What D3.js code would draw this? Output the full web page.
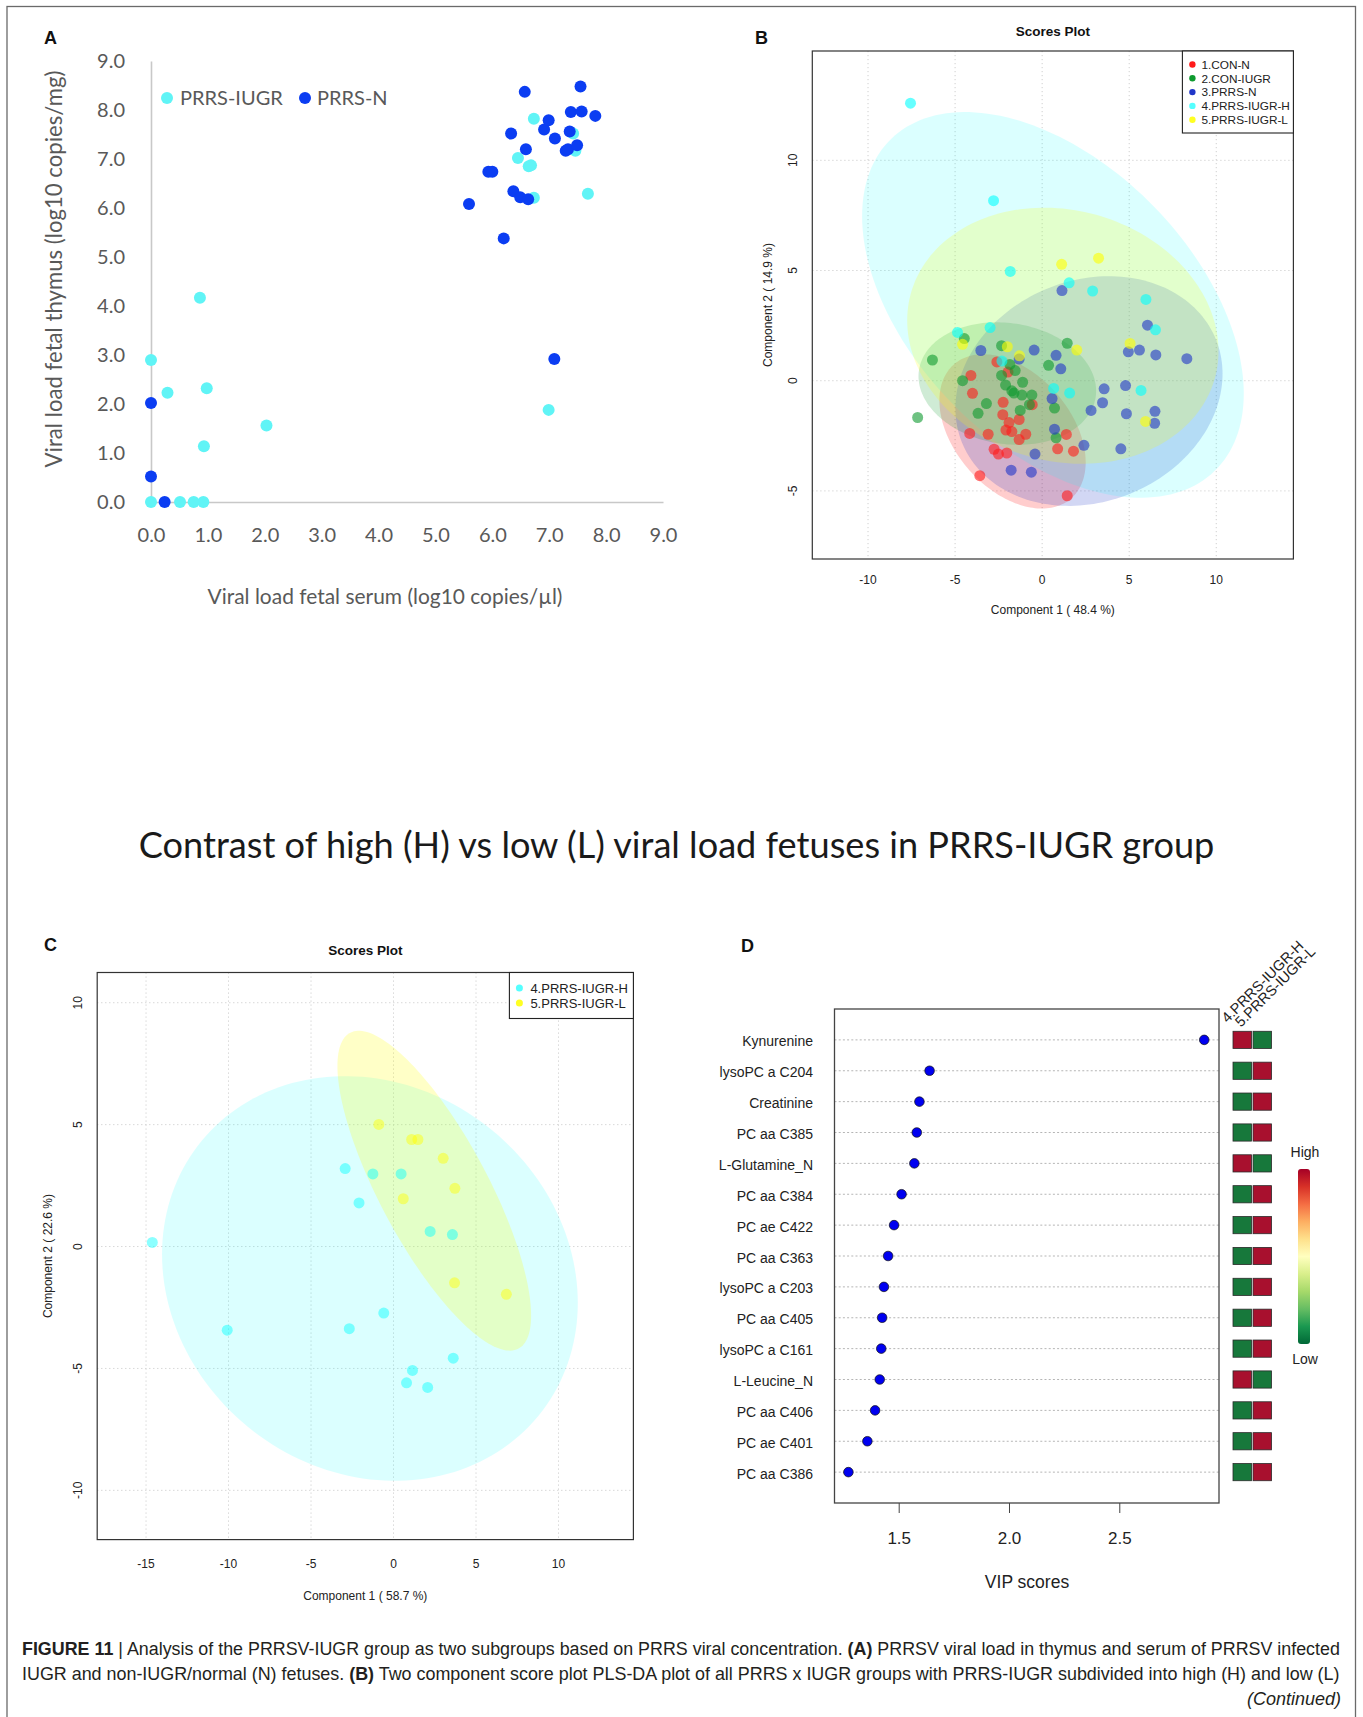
<!DOCTYPE html>
<html><head><meta charset="utf-8">
<script src="https://cdn.jsdelivr.net/npm/d3@7"></script>
<style>body{margin:0;background:#fff;} svg{display:block;}</style>
</head><body>
<svg id="fig" width="1363" height="1717"></svg>
<script>
// ================= DATA =================
// Panel A : viral load (log10) serum (x) vs thymus (y)
const aSeries = ["PRRS-IUGR", "PRRS-N"];
const aTicks = [0,1,2,3,4,5,6,7,8,9];
const aIugrSerum  = [0, 0.51, 0.75, 0.92, 0, 0.29, 0.86, 0.98, 0.93, 2.03, 6.99, 7.68, 6.73, 6.45, 6.64, 6.68, 6.73, 7.42, 7.46];
const aIugrThymus = [0, 0, 0, 0, 2.9, 2.23, 4.17, 2.32, 1.14, 1.56, 1.88, 6.29, 7.82, 7.02, 6.85, 6.87, 6.21, 7.52, 7.17];
const aNSerum  = [0, 0, 0.24, 5.59, 6.2, 5.93, 6.0, 6.33, 6.37, 6.49, 6.63, 6.59, 6.57, 6.91, 6.99, 7.1, 7.09, 7.29, 7.33, 7.36, 7.38, 7.49, 7.55, 7.57, 7.81];
const aNThymus = [2.02, 0.52, 0, 6.08, 5.38, 6.74, 6.74, 7.52, 6.34, 6.22, 6.18, 7.2, 8.37, 7.6, 7.79, 7.42, 2.92, 7.17, 7.2, 7.56, 7.96, 7.28, 8.48, 7.97, 7.88];

// Panel B : PLS-DA scores, 5 groups
const bGroups = ["1.CON-N", "2.CON-IUGR", "3.PRRS-N", "4.PRRS-IUGR-H", "5.PRRS-IUGR-L"];
const bXTicks = [-10, -5, 0, 5, 10];
const bYTicks = [-5, 0, 5, 10];
const bConNX = [-4.09,-4.0,-2.6,-1.96,-2.24,-2.26,-1.9,-2.08,-1.74,-1.32,-0.94,-1.32,-0.57,-3.1,-4.16,-2.76,-2.51,-2.03,-3.58,0.89,1.39,1.8,1.44];
const bConNY = [0.24,-0.57,0.85,0.39,-0.98,-1.54,-1.9,-2.24,-2.31,-1.76,-2.43,-2.67,-1.09,-2.43,-2.39,-3.11,-3.33,-3.28,-4.31,-3.09,-2.44,-3.2,-5.22];
const bConIX = [-7.15,-6.3,-4.47,-4.57,-3.2,-3.68,-2.33,-2.33,-2.1,-1.85,-1.55,-1.74,-1.62,-1.12,-1.16,-0.59,-0.73,-1.26,0.37,1.44,0.71,0.8];
const bConIY = [-1.67,0.94,1.91,0.0,-1.04,-1.48,1.59,0.24,-0.2,0.74,0.46,-0.46,-0.56,-0.07,-0.65,-0.65,-1.09,-1.35,0.7,1.7,-1.24,-2.59];
const bPrrsNX = [-3.52,-1.32,-0.46,1.14,0.8,1.07,0.57,0.71,-0.41,-1.78,-0.62,2.4,2.81,3.47,3.56,4.79,4.84,4.52,4.95,5.59,6.05,6.53,6.48,6.46,8.31];
const bPrrsNY = [1.37,0.98,1.39,4.09,1.15,0.54,-0.81,-2.2,-3.33,-4.06,-4.15,-2.93,-1.35,-1.0,-0.37,-0.22,-1.5,-3.09,1.31,1.39,2.52,1.17,-1.39,-1.93,1.0];
const bHX = [-7.56,-2.79,-1.83,1.55,2.9,5.96,6.51,-2.99,-4.86,-2.31,0.66,1.58,5.68];
const bHY = [12.59,8.17,4.96,4.44,4.07,3.69,2.31,2.41,2.19,0.89,-0.35,-0.56,-0.44];
const bLX = [1.12,3.24,5.05,1.99,-2.0,-1.3,-4.57,5.94];
const bLY = [5.28,5.56,1.69,1.39,1.54,1.13,1.65,-1.85];
// confidence ellipses (centre, half extents, correlation) per group
const bEllCx  = [-1.7, -2.0, 2.69, 0.62, 1.19];
const bEllCy  = [-2.3, -0.13, -0.47, 3.44, 2.04];
const bEllSx  = [4.2, 5.1, 7.67, 10.96, 8.94];
const bEllSy  = [3.5, 2.78, 5.21, 8.75, 5.81];
const bEllRho = [-0.4, -0.12, 0.15, -0.46, -0.12];

// Panel C : PLS-DA scores, 2 groups
const cGroups = ["4.PRRS-IUGR-H", "5.PRRS-IUGR-L"];
const cXTicks = [-15, -10, -5, 0, 5, 10];
const cYTicks = [-10, -5, 0, 5, 10];
const cHX = [-14.62,-10.08,-2.93,-2.09,-1.25,0.46,-2.68,-0.59,2.22,3.57,3.62,1.15,0.79,2.07];
const cHY = [0.17,-3.43,3.2,1.79,2.98,2.98,-3.37,-2.73,0.62,0.49,-4.58,-5.08,-5.59,-5.78];
const cLX = [-0.89,1.1,1.48,3.01,3.72,0.59,3.7,6.84];
const cLY = [5.01,4.39,4.39,3.62,2.39,1.96,-1.49,-1.96];
const cEllCx  = [-1.43, 2.47];
const cEllCy  = [-1.31, 2.29];
const cEllSx  = [12.6, 5.87];
const cEllSy  = [8.3, 6.56];
const cEllRho = [-0.12, -0.78];

// Panel D : VIP scores
const dFeatures = ["Kynurenine","lysoPC a C204","Creatinine","PC aa C385","L-Glutamine_N","PC aa C384","PC ae C422","PC aa C363","lysoPC a C203","PC aa C405","lysoPC a C161","L-Leucine_N","PC aa C406","PC ae C401","PC aa C386"];
const dVip = [2.885,1.64,1.594,1.582,1.571,1.513,1.479,1.452,1.433,1.425,1.421,1.414,1.393,1.358,1.272];
const dHighInH = [1,0,0,0,1,0,0,0,0,0,0,1,0,0,0]; // 1 = higher in H group
const dHeatCols = ["4.PRRS-IUGR-H", "5.PRRS-IUGR-L"];
const dXTicks = [1.5, 2.0, 2.5];

const mainTitle = "Contrast of high (H) vs low (L) viral load fetuses in PRRS-IUGR group";

// ================= DRAW =================
const svg = d3.select("#fig");
svg.append("rect").attr("width",1363).attr("height",1717).attr("fill","#fff");
svg.append("rect").attr("x",7).attr("y",6.5).attr("width",1348.5).attr("height",1800)
  .attr("fill","none").attr("stroke","#6a6a6a").attr("stroke-width",1.3);

const R = "'Liberation Sans', Arial, sans-serif";
const CAL = "Lato, 'Open Sans', sans-serif";

function panelLabel(x, y, t){
  svg.append("text").attr("x",x).attr("y",y).text(t)
    .attr("font-family",R).attr("font-weight","bold").attr("font-size",18).attr("fill","#111");
}
function fitWidth(sel, fs, target){
  const w = sel.node().getComputedTextLength();
  sel.attr("font-size", fs*target/w);
}

// ---------- Panel A ----------
const xA = d3.scaleLinear().domain([0,9]).range([151,663]);
const yA = d3.scaleLinear().domain([0,9]).range([502,61]);
const gA = svg.append("g");
const axL = gA.append("g").attr("transform","translate(151,0)")
  .call(d3.axisLeft(yA).tickValues(aTicks).tickFormat(d3.format(".1f")).tickSize(0).tickPadding(26));
const axB = gA.append("g").attr("transform","translate(0,502)")
  .call(d3.axisBottom(xA).tickValues(aTicks).tickFormat(d3.format(".1f")).tickSize(0).tickPadding(26));
[axL, axB].forEach(a=>{
  a.select(".domain").attr("stroke","#c8c8c8").attr("stroke-width",1.6);
  a.selectAll("text").attr("font-family",CAL).attr("font-size",20).attr("fill","#595959");
});
const xtA = gA.append("text").attr("x",385).attr("y",604).attr("text-anchor","middle")
  .attr("font-family",CAL).attr("font-size",20).attr("fill","#595959")
  .text("Viral load fetal serum (log10 copies/µl)");
fitWidth(xtA, 20, 355);
const ytA = gA.append("text").attr("transform","translate(62,269) rotate(-90)").attr("text-anchor","middle")
  .attr("font-family",CAL).attr("font-size",20).attr("fill","#595959")
  .text("Viral load fetal thymus (log10 copies/mg)");
fitWidth(ytA, 20, 397);
const aColors = ["#60f4f6", "#0b3df2"];
const aData = [d3.zip(aIugrSerum, aIugrThymus), d3.zip(aNSerum, aNThymus)];
aData.forEach((pts,i)=>{
  gA.append("g").selectAll("circle").data(pts).join("circle")
    .attr("cx",d=>xA(d[0])).attr("cy",d=>yA(d[1])).attr("r",6).attr("fill",aColors[i]);
});
// legend A
[[167,180],[305,317]].forEach((p,i)=>{
  gA.append("circle").attr("cx",p[0]).attr("cy",98).attr("r",6).attr("fill",aColors[i]);
  gA.append("text").attr("x",p[1]).attr("y",105).text(aSeries[i])
    .attr("font-family",CAL).attr("font-size",20).attr("fill","#595959");
});
panelLabel(44, 44, "A");

// ---------- helpers for R-style score plots ----------
function ellipsePts(cx, cy, sx, sy, rho){
  const phi = Math.acos(rho);
  return d3.range(0, 181).map(i=>{
    const t = 2*Math.PI*i/180;
    return [cx + sx*Math.cos(t), cy + sy*Math.cos(t - phi)];
  });
}
function scorePlot(cfg){
  const {x, y, xTicks, yTicks, id} = cfg;
  const g = svg.append("g");
  const [x0,x1] = x.range(), [y0,y1] = y.range();
  g.append("clipPath").attr("id",id).append("rect")
    .attr("x",x0).attr("y",y1).attr("width",x1-x0).attr("height",y0-y1);
  const inner = g.append("g").attr("clip-path",`url(#${id})`);
  // grid
  inner.selectAll(".gx").data(xTicks).join("line")
    .attr("x1",d=>x(d)).attr("x2",d=>x(d)).attr("y1",y1).attr("y2",y0)
    .attr("stroke","#cfcfcf").attr("stroke-dasharray","1.2,2.8");
  inner.selectAll(".gy").data(yTicks).join("line")
    .attr("y1",d=>y(d)).attr("y2",d=>y(d)).attr("x1",x0).attr("x2",x1)
    .attr("stroke","#cfcfcf").attr("stroke-dasharray","1.2,2.8");
  // ellipses
  const line = d3.line().x(d=>x(d[0])).y(d=>y(d[1])).curve(d3.curveLinearClosed);
  cfg.ell.forEach((e,i)=>{
    inner.append("path").attr("d", line(ellipsePts(e[0],e[1],e[2],e[3],e[4])))
      .attr("fill", cfg.colors[i]).attr("fill-opacity", cfg.ellOpacity[i]).attr("stroke","none");
  });
  // points
  cfg.pts.forEach((pts,i)=>{
    inner.append("g").selectAll("circle").data(pts).join("circle")
      .attr("cx",d=>x(d[0])).attr("cy",d=>y(d[1])).attr("r",5.5)
      .attr("fill",cfg.colors[i]).attr("fill-opacity",cfg.ptOpacity);
  });
  // box
  g.append("rect").attr("x",x0).attr("y",y1).attr("width",x1-x0).attr("height",y0-y1)
    .attr("fill","none").attr("stroke","#333").attr("stroke-width",1.2);
  // tick labels
  g.selectAll(".tx").data(xTicks).join("text")
    .attr("x",d=>x(d)).attr("y",y0+cfg.tickDy).attr("text-anchor","middle").text(d=>d)
    .attr("font-family",R).attr("font-size",12).attr("fill","#222");
  g.selectAll(".ty").data(yTicks).join("text")
    .attr("transform",d=>`translate(${x0-15},${y(d)}) rotate(-90)`).attr("text-anchor","middle").text(d=>d)
    .attr("font-family",R).attr("font-size",12).attr("fill","#222");
  // titles
  g.append("text").attr("x",(x0+x1)/2).attr("y",y1-cfg.titleUp).attr("text-anchor","middle")
    .text("Scores Plot").attr("font-family",R).attr("font-weight","bold").attr("font-size",13.5).attr("fill","#111");
  g.append("text").attr("x",(x0+x1)/2).attr("y",y0+cfg.xlabDy).attr("text-anchor","middle")
    .text(cfg.xlab).attr("font-family",R).attr("font-size",12).attr("fill","#222");
  g.append("text").attr("transform",`translate(${x0-cfg.ylabDx},${(y0+y1)/2}) rotate(-90)`).attr("text-anchor","middle")
    .text(cfg.ylab).attr("font-family",R).attr("font-size",12).attr("fill","#222");
  // legend
  const lg = cfg.legend;
  g.append("rect").attr("x",x1-lg.w).attr("y",y1).attr("width",lg.w).attr("height",lg.h)
    .attr("fill","#fff").attr("stroke","#222").attr("stroke-width",1.1);
  cfg.groups.forEach((name,i)=>{
    const yy = y1 + lg.top + i*lg.step;
    g.append("circle").attr("cx",x1-lg.w+10).attr("cy",yy).attr("r",lg.r).attr("fill",cfg.legColors[i]);
    g.append("text").attr("x",x1-lg.w+lg.tx).attr("y",yy+lg.fs*0.36).text(name)
      .attr("font-family",R).attr("font-size",lg.fs).attr("fill","#222");
  });
  return g;
}

// ---------- Panel B ----------
const xB = d3.scaleLinear().domain([-13.2,14.43]).range([812.3,1293.4]);
const yB = d3.scaleLinear().domain([-8.09,14.96]).range([559,51]);
scorePlot({
  id:"clipB", x:xB, y:yB, xTicks:bXTicks, yTicks:bYTicks, groups:bGroups,
  colors:["#ff1a1a","#0e9a2e","#2036c8","#00ffff","#ffff00"],
  legColors:["#ff1a1a","#0e9a2e","#2036c8","#55ffff","#ffff22"],
  ellOpacity:[0.22,0.2,0.2,0.14,0.2], ptOpacity:0.6,
  ell: bGroups.map((_,i)=>[bEllCx[i],bEllCy[i],bEllSx[i],bEllSy[i],bEllRho[i]]),
  pts:[d3.zip(bConNX,bConNY), d3.zip(bConIX,bConIY), d3.zip(bPrrsNX,bPrrsNY), d3.zip(bHX,bHY), d3.zip(bLX,bLY)],
  xlab:"Component 1 ( 48.4 %)", ylab:"Component 2 ( 14.9 %)",
  tickDy:25, xlabDy:55, ylabDx:40, titleUp:15,
  legend:{w:111, h:82, top:13.5, step:13.8, fs:11.8, r:3.2, tx:19}
});
panelLabel(755, 44, "B");

// ---------- Panel C ----------
const xC = d3.scaleLinear().domain([-17.96,14.54]).range([97.2,633.4]);
const yC = d3.scaleLinear().domain([-12.02,11.24]).range([1539.6,972.5]);
scorePlot({
  id:"clipC", x:xC, y:yC, xTicks:cXTicks, yTicks:cYTicks, groups:cGroups,
  colors:["#00ffff","#ffff00"], legColors:["#55ffff","#ffff22"],
  ellOpacity:[0.14,0.22], ptOpacity:0.45,
  ell: cGroups.map((_,i)=>[cEllCx[i],cEllCy[i],cEllSx[i],cEllSy[i],cEllRho[i]]),
  pts:[d3.zip(cHX,cHY), d3.zip(cLX,cLY)],
  xlab:"Component 1 ( 58.7 %)", ylab:"Component 2 ( 22.6 %)",
  tickDy:28, xlabDy:60, ylabDx:45, titleUp:18,
  legend:{w:124, h:46, top:15.5, step:15, fs:13, r:3.5, tx:21}
});
panelLabel(44, 951, "C");

// ---------- Main title ----------
const mt = svg.append("text").attr("x",676.6).attr("y",858).attr("text-anchor","middle")
  .attr("font-family",CAL).attr("font-size",36).attr("fill","#1a1a1a").text(mainTitle);
fitWidth(mt, 36, 1076);

// ---------- Panel D ----------
const xD = d3.scaleLinear().domain([1.209,2.952]).range([834.5,1219]);
const yD = d3.scaleLinear().domain([-1,15]).range([1009,1503]);
const gD = svg.append("g");
gD.selectAll(".grid").data(dFeatures).join("line")
  .attr("x1",834.5).attr("x2",1219).attr("y1",(d,i)=>yD(i)).attr("y2",(d,i)=>yD(i))
  .attr("stroke","#b5b5b5").attr("stroke-dasharray","2,2.2");
gD.append("rect").attr("x",834.5).attr("y",1009).attr("width",1219-834.5).attr("height",1503-1009)
  .attr("fill","none").attr("stroke","#444").attr("stroke-width",1.3);
gD.selectAll(".dot").data(dVip).join("circle")
  .attr("cx",d=>xD(d)).attr("cy",(d,i)=>yD(i)).attr("r",4.8)
  .attr("fill","#0000f0").attr("stroke","#111").attr("stroke-width",0.7);
gD.selectAll(".lab").data(dFeatures).join("text")
  .attr("x",813).attr("y",(d,i)=>yD(i)+6.5).attr("text-anchor","end").text(d=>d)
  .attr("font-family",R).attr("font-size",14).attr("fill","#222");
const axD = gD.append("g").attr("transform","translate(0,1503)")
  .call(d3.axisBottom(xD).tickValues(dXTicks).tickFormat(d3.format(".1f")).tickSize(10).tickPadding(19));
axD.select(".domain").remove();
axD.selectAll("line").attr("stroke","#444");
axD.selectAll("text").attr("font-family",R).attr("font-size",17).attr("fill","#222");
gD.append("text").attr("x",1027).attr("y",1588).attr("text-anchor","middle").text("VIP scores")
  .attr("font-family",R).attr("font-size",17.5).attr("fill","#222");
// heat squares
const xHeat = d3.scaleBand().domain(dHeatCols).range([1233,1271.5]).paddingInner(0.08);
const heatCol = v => v ? "#a8102e" : "#17783b";
dHeatCols.forEach((c,ci)=>{
  gD.selectAll(".h"+ci).data(dHighInH).join("rect")
    .attr("x",xHeat(c)).attr("y",(d,i)=>yD(i)-8.6).attr("width",xHeat.bandwidth()).attr("height",17.2)
    .attr("fill",d=> heatCol(ci===0 ? d : 1-d)).attr("stroke","#2a2a2a").attr("stroke-width",0.8);
});
gD.append("clipPath").attr("id","clipHead").append("rect").attr("x",1200).attr("y",930).attr("width",123).attr("height",110);
const head = gD.append("g").attr("clip-path","url(#clipHead)");
dHeatCols.forEach((c,ci)=>{
  head.append("text").attr("transform",`translate(${1227.5 + ci*13.5},${1023.5 + ci*4.3}) rotate(-45)`).text(c)
    .attr("font-family",R).attr("font-size",14.5).attr("fill","#222");
});
// colour key
const grad = svg.append("defs").append("linearGradient").attr("id","rdylgn").attr("x1",0).attr("x2",0).attr("y1",0).attr("y2",1);
["#a50026","#d73027","#f46d43","#fdae61","#fee08b","#ffffbf","#d9ef8b","#a6d96a","#66bd63","#1a9850","#006837"]
  .forEach((c,i,a)=>grad.append("stop").attr("offset",i/(a.length-1)).attr("stop-color",c));
gD.append("rect").attr("x",1298).attr("y",1169).attr("width",12).attr("height",175).attr("rx",3)
  .attr("fill","url(#rdylgn)");
gD.append("text").attr("x",1305).attr("y",1157).attr("text-anchor","middle").text("High")
  .attr("font-family",R).attr("font-size",14).attr("fill","#222");
gD.append("text").attr("x",1305).attr("y",1364).attr("text-anchor","middle").text("Low")
  .attr("font-family",R).attr("font-size",14).attr("fill","#222");
panelLabel(741, 952, "D");

// ---------- Caption ----------
const CAP = "'Liberation Sans', Arial, sans-serif";
function capLine(y, parts){
  const t = svg.append("text").attr("x",0).attr("y",0).attr("font-family",CAP).attr("font-size",18).attr("fill","#231f20");
  parts.forEach(p=>t.append("tspan").text(p[0]).attr("font-weight",p[1]?"bold":"normal"));
  const w = t.node().getBBox().width;
  t.attr("transform",`translate(22,${y}) scale(${1319/w},1)`);
  return t;
}
capLine(1655, [["FIGURE 11",1],[" | Analysis of the PRRSV-IUGR group as two subgroups based on PRRS viral concentration. ",0],["(A)",1],[" PRRSV viral load in thymus and serum of PRRSV infected",0]]);
capLine(1680, [["IUGR and non-IUGR/normal (N) fetuses. ",0],["(B)",1],[" Two component score plot PLS-DA plot of all PRRS x IUGR groups with PRRS-IUGR subdivided into high (H) and low (L)",0]]);
svg.append("text").attr("x",1341).attr("y",1705).attr("text-anchor","end").attr("font-style","italic")
  .attr("font-family",CAP).attr("font-size",18).attr("fill","#231f20").text("(Continued)");
</script>
</body></html>
